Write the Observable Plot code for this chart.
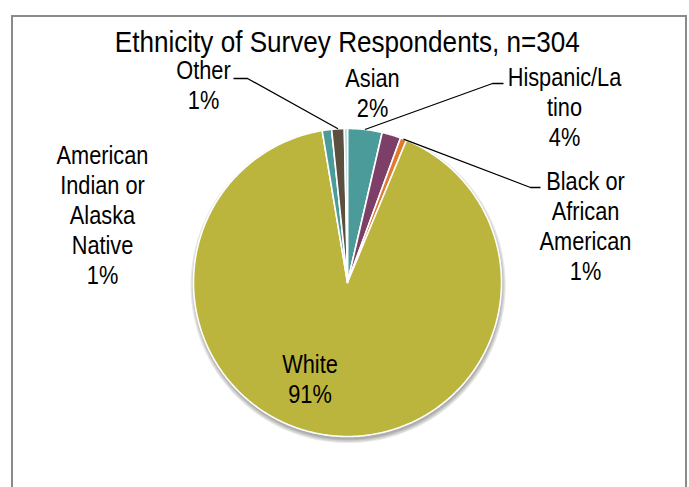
<!DOCTYPE html>
<html><head><meta charset="utf-8">
<script src="https://cdn.jsdelivr.net/npm/d3@7"></script>
<script src="https://cdn.jsdelivr.net/npm/@observablehq/plot@0.6"></script>
<style>
html,body{margin:0;padding:0;background:#fff;}
#wrap{position:relative;width:689px;height:487px;overflow:hidden;font-family:"Liberation Sans",Arial,sans-serif;}
#frame{position:absolute;left:11px;top:15px;width:676px;height:520px;border:2px solid #8a8a8a;box-sizing:border-box;}
#title{position:absolute;left:0;width:695px;top:27px;text-align:center;font-size:30px;line-height:30px;color:#000;white-space:nowrap;}
#title span{display:inline-block;transform:scaleX(0.87);transform-origin:50% 50%;}
#chart{position:absolute;left:0;top:0;}
</style></head>
<body><div id="wrap"><div id="frame"></div><div id="chart"></div><div id="title"><span>Ethnicity of Survey Respondents, n=304</span></div></div>
<script>
// ---- data ----
const categories = ["Hispanic/Latino", "Asian", "Black or African American", "White", "American Indian or Alaska Native", "Other", "Native Hawaiian or Pacific Islander"];
const counts = [11, 6, 2, 277, 3, 4, 1];
const labelNames = ["Hispanic/La\ntino", "Asian", "Black or\nAfrican\nAmerican", "White", "American\nIndian or\nAlaska\nNative", "Other", ""];
const sliceColors = ["#4b9b9b", "#7d3f67", "#e07a2c", "#bbb43d", "#4b9b9b", "#5b4f3f", "#a9d5d8"];

// ---- layout (pixels relative to pie centre, y down) ----
const W = 689, H = 487, cx = 347, cy = 282, R = 154;
const labelLayout = {
  "Hispanic/Latino": {text: [217, -176], leader: [[145, -199], [156, -199]]},
  "Asian": {text: [25, -190.5]},
  "Black or African American": {text: [238, -57], leader: [[183, -95], [193, -95]]},
  "White": {text: [-37.5, 96]},
  "American Indian or Alaska Native": {text: [-245, -68.5]},
  "Other": {text: [-144, -198.5], leader: [[-100, -204], [-114, -204]]}
};
const toUnit = ([dx, dy]) => ({x: dx / R, y: -dy / R});

const total = d3.sum(counts);
const arcs = d3.pie().sort(null).value((d, i) => counts[i])(categories);

const slicePts = [];
arcs.forEach((a, i) => {
  const name = categories[i];
  slicePts.push({name, x: 0, y: 0});
  const n = Math.max(2, Math.ceil((a.endAngle - a.startAngle) / (Math.PI / 360)));
  for (let k = 0; k <= n; k++) {
    const t = a.startAngle + (a.endAngle - a.startAngle) * k / n;
    slicePts.push({name, x: Math.sin(t), y: Math.cos(t)});
  }
  slicePts.push({name, x: 0, y: 0});
});

// soft shadow under the pie (a few translucent offset discs)
const shadowPts = [];
[0, 1, 2, 3].forEach(k => {
  const r = 1 + k * 1.2 / R, off = -3 / R;
  for (let j = 0; j <= 360; j += 2) {
    const t = j * Math.PI / 180;
    shadowPts.push({ring: k, x: 0.6 / R + r * Math.sin(t), y: off + r * Math.cos(t)});
  }
});

const labels = [];
const leaders = [];
arcs.forEach((a, i) => {
  const name = categories[i];
  const lay = labelLayout[name];
  if (!lay) return;
  const pct = Math.round(counts[i] / total * 100) + "%";
  const p = toUnit(lay.text);
  labels.push({name, x: p.x, y: p.y, text: labelNames[i] + "\n" + pct});
  if (lay.leader) {
    const mid = (a.startAngle + a.endAngle) / 2;
    leaders.push({name, x: Math.sin(mid), y: Math.cos(mid)});
    lay.leader.forEach(q => { const u = toUnit(q); leaders.push({name, x: u.x, y: u.y}); });
  }
});

const font = "'Liberation Sans', Arial, sans-serif";
const chart = Plot.plot({
  width: W, height: H, margin: 0,
  x: {domain: [-cx / R, (W - cx) / R], axis: null},
  y: {domain: [-(H - cy) / R, cy / R], axis: null},
  color: {domain: categories, range: sliceColors},
  style: {background: "transparent", fontFamily: font, overflow: "visible"},
  marks: [
    Plot.line(shadowPts, {x: "x", y: "y", z: "ring", fill: "#000", fillOpacity: 0.09, stroke: "none"}),
    Plot.line(slicePts, {x: "x", y: "y", z: "name", fill: "name", stroke: "white", strokeWidth: 1.6, strokeLinejoin: "miter", strokeMiterlimit: 4}),
    Plot.line(leaders, {x: "x", y: "y", z: "name", stroke: "black", strokeWidth: 1.3, strokeLinejoin: "miter", strokeLinecap: "butt"}),
    Plot.text(labels, {x: "x", y: "y", text: "text", fontSize: 25, fontFamily: font, lineHeight: 1.2, lineAnchor: "middle", textAnchor: "middle", fill: "#000"})
  ]
});
// narrow the label glyphs horizontally to mimic the condensed face of the original
chart.querySelectorAll('g[aria-label="text"] text').forEach(t => {
  t.setAttribute("transform", (t.getAttribute("transform") || "") + " scale(0.87,1)");
});
document.getElementById("chart").appendChild(chart);
</script>
</body></html>
